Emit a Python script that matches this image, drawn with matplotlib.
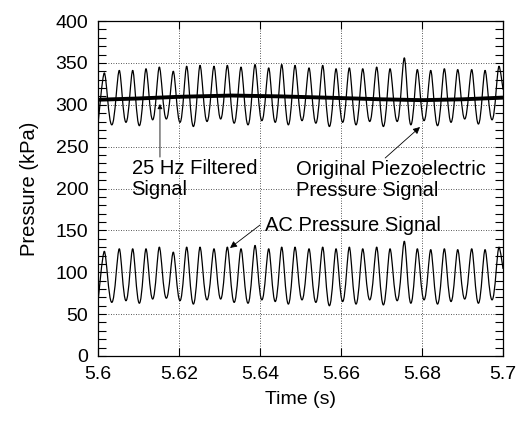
import matplotlib
matplotlib.use("Agg")
import matplotlib.pyplot as plt
from matplotlib.ticker import MultipleLocator
from matplotlib.path import Path
from matplotlib.patches import PathPatch
import numpy as np

plt.rcParams['font.family'] = ['Liberation Sans', 'DejaVu Sans']

# ---- data ----
peak_t = [5.60156, 5.60526, 5.60857, 5.61185, 5.61514, 5.61859, 5.62190, 5.62519,
          5.62864, 5.63193, 5.63531, 5.63877, 5.64215, 5.64536, 5.64864, 5.65210,
          5.65548, 5.65877, 5.66205, 5.66536, 5.66881, 5.67210, 5.67563, 5.67884,
          5.68215, 5.68551, 5.68881, 5.69227, 5.69556, 5.69901]
trough_t = [5.60341, 5.60691, 5.61021, 5.61350, 5.61687, 5.62025, 5.62355, 5.62692,
            5.63029, 5.63362, 5.63704, 5.64046, 5.64376, 5.64700, 5.65037, 5.65379,
            5.65713, 5.66041, 5.66371, 5.66709, 5.67046, 5.67387, 5.67724, 5.68050,
            5.68383, 5.68716, 5.69054, 5.69392, 5.69729]
edge_t = [5.6, 5.7]

orig_peaks = [338, 341, 341, 343, 345, 340, 346, 347, 346, 347, 345, 348, 344, 348, 347,
              344, 347, 343, 344, 343, 345, 343, 356, 342, 341, 343, 342, 342, 341, 346]
orig_troughs = [276, 279, 275, 282, 283, 279, 274, 280, 283, 278, 276, 281, 279, 276, 281,
                278, 274, 279, 276, 280, 274, 280, 276, 281, 275, 279, 283, 277, 282]
orig_edges = [276, 318]

ac_peaks = [125, 128, 128, 128, 130, 124, 130, 130, 128, 130, 128, 132, 128, 130, 130,
            128, 130, 128, 130, 128, 130, 128, 137, 128, 127, 128, 127, 128, 127, 130]
ac_troughs = [64, 66, 63, 68, 69, 66, 62, 67, 68, 64, 63, 67, 65, 62, 67,
              64, 60, 65, 62, 67, 61, 66, 63, 67, 62, 65, 68, 63, 67]
ac_edges = [64, 104]

filt_t = [5.600, 5.610, 5.620, 5.633, 5.645, 5.660, 5.670, 5.680, 5.690, 5.700]
filt_p = [306.0, 307.5, 309.5, 311.0, 310.0, 308.0, 306.5, 305.5, 306.5, 308.5]

# handle fractions used only for drawing the curve between extrema
A_PEAK, A_TROUGH, A_EDGE = 0.28, 0.44, 0.0


def wave_path(peaks, troughs, edges):
    pts = ([(t, p, A_EDGE) for t, p in zip(edge_t, edges)] +
           [(t, p, A_PEAK) for t, p in zip(peak_t, peaks)] +
           [(t, p, A_TROUGH) for t, p in zip(trough_t, troughs)])
    pts.sort(key=lambda q: q[0])
    verts = [(pts[0][0], pts[0][1])]
    codes = [Path.MOVETO]
    for (t0, p0, a0), (t1, p1, a1) in zip(pts[:-1], pts[1:]):
        h = t1 - t0
        verts += [(t0 + a0 * h, p0), (t1 - a1 * h, p1), (t1, p1)]
        codes += [Path.CURVE4] * 3
    return Path(verts, codes)


fig = plt.figure(figsize=(5.24, 4.21), dpi=100)
ax = fig.add_axes([0.187, 0.1544, 0.773, 0.7957])

for pk, tr, ed in [(orig_peaks, orig_troughs, orig_edges), (ac_peaks, ac_troughs, ac_edges)]:
    ax.add_patch(PathPatch(wave_path(pk, tr, ed), facecolor='none', edgecolor='black',
                           lw=0.9, joinstyle='round'))
ax.plot(filt_t, filt_p, color='black', lw=2.8, solid_capstyle='butt')

ax.set_xlim(5.6, 5.7)
ax.set_ylim(0, 400)
ax.xaxis.set_major_locator(MultipleLocator(0.02))
ax.yaxis.set_major_locator(MultipleLocator(50))
ax.yaxis.set_minor_locator(MultipleLocator(10))
ax.xaxis.set_major_formatter(plt.FuncFormatter(lambda v, _: f"{v:.2f}".rstrip('0')))
ax.grid(True, which='major', linestyle=(0, (1, 2)), color='#222222', lw=0.6)
ax.tick_params(which='both', direction='in', top=True, right=True, labelsize=14)
ax.tick_params(axis='y', which='major', length=6, width=0.8, pad=7)
ax.tick_params(axis='x', which='major', length=6, width=0.8, pad=7)
ax.tick_params(which='minor', length=6, width=0.8)
for s in ax.spines.values():
    s.set_linewidth(0.9)

ax.set_xlabel('Time (s)', fontsize=14, labelpad=6)
ax.set_ylabel('Pressure (kPa)', fontsize=14.5, labelpad=12)

tkw = dict(fontsize=14.5, ha='left', va='top', linespacing=1.1)
akw = dict(arrowstyle='-|>', color='black', lw=0.6, shrinkA=0, shrinkB=0)
ax.text(5.6083, 235, '25 Hz Filtered\nSignal', **tkw)
ax.annotate('', xy=(5.6153, 301), xytext=(5.6153, 237.5),
            arrowprops=dict(mutation_scale=7, **akw))
ax.text(5.6490, 234, 'Original Piezoelectric\nPressure Signal', **tkw)
ax.annotate('', xy=(5.6795, 273.4), xytext=(5.6709, 236.4),
            arrowprops=dict(mutation_scale=10, **akw))
ax.text(5.6412, 167, 'AC Pressure Signal', **tkw)
ax.annotate('', xy=(5.6326, 129), xytext=(5.6400, 156.4),
            arrowprops=dict(mutation_scale=10, **akw))

fig.savefig('out.png', dpi=100)
